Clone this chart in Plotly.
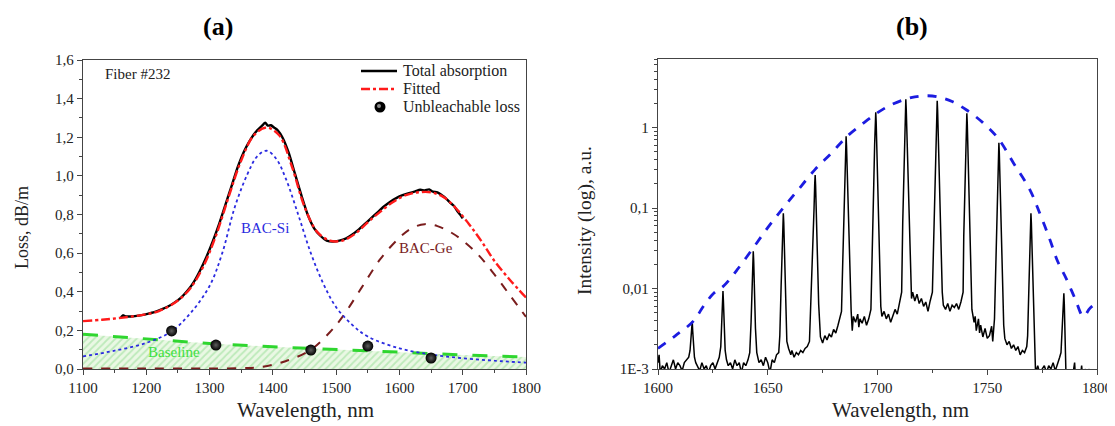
import plotly.graph_objects as go

# The page body has an 8px margin, so the figure is sized to the visible area
OFF = 8
W, H = 1115 - OFF, 426 - OFF
SERIF = "Liberation Serif"

# ---------------- Panel (a) data ----------------
total_wl = [1160, 1163, 1167, 1175, 1185, 1195, 1205, 1215, 1225, 1235, 1245, 1255, 1265, 1275, 1285,
            1295, 1305, 1315, 1325, 1335, 1345, 1355, 1365, 1375, 1383, 1388, 1392, 1397, 1402, 1408,
            1415, 1425, 1435, 1445, 1455, 1465, 1475, 1485, 1495, 1505, 1515, 1525, 1535, 1545, 1555,
            1565, 1575, 1585, 1595, 1605, 1615, 1625, 1633, 1640, 1647, 1653, 1660, 1667, 1673, 1680,
            1686, 1692, 1697, 1700]
total_loss = [0.268, 0.278, 0.272, 0.272, 0.275, 0.28, 0.288, 0.297, 0.31, 0.325, 0.345, 0.37, 0.405, 0.45, 0.51,
              0.58, 0.66, 0.75, 0.85, 0.95, 1.05, 1.13, 1.19, 1.235, 1.26, 1.275, 1.26, 1.262, 1.25, 1.235,
              1.2, 1.12, 1.01, 0.9, 0.8, 0.73, 0.69, 0.665, 0.66, 0.665, 0.675, 0.695, 0.72, 0.75, 0.78,
              0.81, 0.84, 0.865, 0.885, 0.9, 0.91, 0.92, 0.928, 0.925, 0.93, 0.918, 0.915, 0.9, 0.885, 0.862,
              0.845, 0.815, 0.795, 0.78]

fit_wl = [1100, 1130, 1160, 1190, 1220, 1250, 1270, 1290, 1310, 1330, 1350, 1370, 1390, 1410, 1430, 1450,
          1470, 1490, 1510, 1530, 1550, 1570, 1590, 1610, 1630, 1650, 1670, 1690, 1710, 1730, 1750, 1775, 1800]
fit_loss = [0.248, 0.255, 0.265, 0.278, 0.3, 0.355, 0.42, 0.53, 0.69, 0.89, 1.08, 1.21, 1.25, 1.21, 1.05, 0.84,
            0.71, 0.665, 0.665, 0.7, 0.76, 0.815, 0.865, 0.9, 0.915, 0.915, 0.89, 0.83, 0.75, 0.66, 0.56, 0.46, 0.37]

si_wl = [1100, 1150, 1200, 1240, 1270, 1300, 1320, 1340, 1360, 1375, 1390, 1405, 1420, 1440, 1460, 1480,
         1500, 1525, 1550, 1600, 1650, 1700, 1750, 1800]
si_loss = [0.065, 0.095, 0.135, 0.195, 0.29, 0.43, 0.6, 0.84, 1.01, 1.1, 1.13, 1.09, 0.99, 0.8, 0.6, 0.44,
           0.32, 0.23, 0.168, 0.107, 0.075, 0.056, 0.043, 0.033]

ge_wl = [1100, 1200, 1300, 1350, 1380, 1420, 1460, 1490, 1510, 1540, 1570, 1600, 1620, 1640, 1660, 1680,
         1700, 1725, 1750, 1775, 1800]
ge_loss = [0.003, 0.003, 0.003, 0.004, 0.01, 0.04, 0.1, 0.19, 0.27, 0.42, 0.57, 0.68, 0.73, 0.75, 0.74, 0.71,
           0.665, 0.59, 0.49, 0.38, 0.27]

base_wl = [1100, 1200, 1300, 1400, 1500, 1600, 1700, 1800]
base_loss = [0.18, 0.155, 0.132, 0.115, 0.1, 0.086, 0.073, 0.062]

unbl_wl = [1240, 1310, 1460, 1550, 1650]
unbl_loss = [0.197, 0.124, 0.098, 0.119, 0.057]

a_yticks = [0.0, 0.2, 0.4, 0.6, 0.8, 1.0, 1.2, 1.4, 1.6]
a_yticktext = ["0,0", "0,2", "0,4", "0,6", "0,8", "1,0", "1,2", "1,4", "1,6"]
a_xticks = [1100, 1200, 1300, 1400, 1500, 1600, 1700, 1800]

legend_labels = ["Total absorption", "Fitted", "Unbleachable loss"]

# ---------------- Panel (b) data ----------------
spec_wl = [
    1600, 1600.5, 1601, 1602, 1603, 1604, 1605, 1606, 1607, 1608, 1609, 1610, 1611, 1612, 1613,
    1614.0, 1614.6, 1615.1, 1615.4, 1615.6, 1615.8, 1616.1, 1616.6, 1617.2,
    1618, 1619, 1620, 1621, 1622, 1623, 1624, 1625, 1626, 1627,
    1627.9, 1628.6, 1629.1, 1629.4, 1629.6, 1629.8, 1630.1, 1630.6, 1631.2,
    1632, 1633, 1634, 1635, 1636, 1637, 1638, 1639, 1640, 1641,
    1641.8, 1642.4, 1642.9, 1643.2, 1643.4, 1643.6, 1643.9, 1644.4, 1645.0,
    1646, 1647, 1648, 1649, 1650, 1651, 1652, 1653, 1654, 1655,
    1655.5, 1656.1, 1656.6, 1656.9, 1657.1, 1657.3, 1657.6, 1658.1, 1658.7,
    1659.5, 1660.5, 1661, 1662, 1663, 1664, 1665, 1666, 1667, 1668, 1669,
    1669.8, 1670.5, 1671.1, 1671.4, 1671.6, 1671.8, 1672.1, 1672.6, 1673.2,
    1674, 1675, 1676, 1677, 1678, 1679, 1680, 1681, 1682, 1683, 1683.6,
    1684.2, 1684.8, 1685.2, 1685.5, 1685.7, 1685.9, 1686.2, 1686.7, 1687.3,
    1688, 1688.5, 1689, 1690, 1691, 1691.5, 1692, 1693, 1694, 1695, 1696, 1697,
    1697.6, 1698.3, 1698.7, 1699.0, 1699.2, 1699.4, 1699.7, 1700.2, 1700.8,
    1701.5, 1702, 1703, 1704, 1705, 1706, 1707, 1708, 1709, 1710, 1711,
    1711.5, 1712.0, 1712.4, 1712.7, 1712.9, 1713.1, 1713.4, 1713.9, 1714.5,
    1715, 1715.5, 1716, 1717, 1718, 1719, 1720, 1721, 1722, 1723, 1724, 1725,
    1725.8, 1726.3, 1726.7, 1727.0, 1727.2, 1727.4, 1727.7, 1728.2, 1728.8,
    1729.5, 1730, 1731, 1732, 1733, 1734, 1735, 1736, 1737, 1738, 1739,
    1739.3, 1739.8, 1740.2, 1740.5, 1740.7, 1740.9, 1741.2, 1741.7, 1742.3,
    1743, 1744, 1744.5, 1745, 1746, 1746.5, 1747, 1748, 1749, 1750, 1751, 1752, 1752.5, 1753.3,
    1753.8, 1754.4, 1754.8, 1755.1, 1755.3, 1755.5, 1755.8, 1756.3, 1756.9,
    1757.5, 1758, 1759, 1760, 1761, 1762, 1763, 1764, 1765, 1766, 1767, 1768,
    1768.4, 1769.0, 1769.4, 1769.7, 1769.9, 1770.1, 1770.4, 1770.9, 1771.5,
    1772, 1773, 1774, 1775, 1776, 1777, 1778, 1779, 1780, 1781, 1782, 1783,
    1783.6, 1784.2, 1784.6, 1784.9, 1785.1, 1785.3, 1785.5, 1786,
    1787, 1788, 1789, 1789.8, 1790.3, 1791, 1792, 1793, 1793.6, 1794.5, 1795.5, 1796.5, 1797.5, 1798.5,
    1799.5, 1800]
spec_int = [
    0.0012, 0.0015, 0.0009, 0.0011, 0.001, 0.0012, 0.0009, 0.0011, 0.0013, 0.001, 0.0012, 0.0011, 0.00095, 0.0012, 0.0013,
    0.0014, 0.0017, 0.0024, 0.0033, 0.0039, 0.003, 0.0019, 0.0014, 0.0012,
    0.0011, 0.00095, 0.0012, 0.001, 0.0011, 0.0009, 0.0011, 0.0012, 0.001, 0.0012,
    0.0014, 0.0019, 0.0037, 0.0074, 0.0093, 0.007, 0.0033, 0.0017, 0.0013,
    0.0011, 0.0012, 0.001, 0.0013, 0.0011, 0.0012, 0.0009, 0.0012, 0.0011, 0.0013,
    0.0016, 0.0038, 0.0116, 0.023, 0.029, 0.022, 0.010, 0.0032, 0.0016,
    0.0012, 0.0013, 0.0011, 0.0014, 0.0012, 0.0009, 0.0013, 0.0012, 0.0015, 0.0016,
    0.0026, 0.011, 0.034, 0.069, 0.086, 0.065, 0.03, 0.0095, 0.0022,
    0.0018, 0.0015, 0.0017, 0.0014, 0.0016, 0.0015, 0.0017, 0.0016, 0.0018, 0.0019, 0.0022,
    0.0077, 0.033, 0.10, 0.2, 0.257, 0.19, 0.09, 0.028, 0.0064,
    0.0025, 0.0021, 0.0026, 0.0023, 0.0027, 0.0025, 0.0031, 0.0028, 0.0035, 0.0045, 0.0052,
    0.023, 0.10, 0.31, 0.62, 0.78, 0.58, 0.27, 0.086, 0.02,
    0.0052, 0.003, 0.0045, 0.0038, 0.0048, 0.0033, 0.0042, 0.0037, 0.0045, 0.0035, 0.0042, 0.0055,
    0.047, 0.2, 0.62, 1.24, 1.55, 1.16, 0.54, 0.17, 0.039,
    0.006, 0.0045, 0.0052, 0.0042, 0.0048, 0.0038, 0.0045, 0.0055, 0.0048, 0.0065, 0.009,
    0.067, 0.29, 0.9, 1.8, 2.24, 1.68, 0.78, 0.25, 0.056,
    0.012, 0.0075, 0.009, 0.007, 0.0085, 0.0065, 0.0075, 0.006, 0.0068, 0.0052, 0.007, 0.009,
    0.065, 0.28, 0.86, 1.72, 2.15, 1.6, 0.75, 0.24, 0.054,
    0.009, 0.0062, 0.0055, 0.0065, 0.0052, 0.0062, 0.0058, 0.0065, 0.0055, 0.0068, 0.009,
    0.045, 0.195, 0.6, 1.2, 1.5, 1.12, 0.52, 0.165, 0.037,
    0.0055, 0.0038, 0.0045, 0.003, 0.0042, 0.0028, 0.0035, 0.0025, 0.0032, 0.0024, 0.0026, 0.0034, 0.0022, 0.0042,
    0.019, 0.084, 0.26, 0.52, 0.645, 0.48, 0.23, 0.071, 0.016,
    0.0035, 0.0024, 0.002, 0.0022, 0.0018, 0.002, 0.0017, 0.0019, 0.0015, 0.0017, 0.0016, 0.0019,
    0.0026, 0.011, 0.034, 0.069, 0.086, 0.065, 0.03, 0.0095, 0.0022,
    0.0009, 0.0011, 0.00085, 0.001, 0.0011, 0.0009, 0.0011, 0.001, 0.0012, 0.00095, 0.0012, 0.0014,
    0.0016, 0.0035, 0.007, 0.0087, 0.0065, 0.003, 0.0008, 0.0006,
    0.0007, 0.0006, 0.00085, 0.0012, 0.0007, 0.0008, 0.0006, 0.0011, 0.0007, 0.001, 0.0008, 0.001, 0.0006, 0.0008,
    0.0007, 0.0007]

env_wl = [1600, 1608, 1616, 1621, 1625.5, 1630, 1636, 1643.4, 1650, 1657, 1664, 1671.5, 1679, 1686, 1693,
          1699.6, 1706, 1712.6, 1717, 1721.6, 1727, 1734, 1740.6, 1748, 1755, 1762, 1769.5, 1774, 1778.6,
          1782, 1786.2, 1790, 1793.8, 1796.8, 1800]
env_int = [0.0018, 0.0026, 0.0039, 0.0062, 0.0088, 0.0108, 0.017, 0.032, 0.057, 0.10, 0.17, 0.30, 0.48, 0.77, 1.1,
           1.5, 1.9, 2.24, 2.4, 2.48, 2.42, 2.1, 1.65, 1.15, 0.73, 0.36, 0.167, 0.085, 0.040,
           0.022, 0.0129, 0.0075, 0.0045, 0.0057, 0.0066]

b_yticks = [0.001, 0.01, 0.1, 1]
b_yticktext = ["1E-3", "0,01", "0,1", "1"]
b_yminor = [0.002, 0.003, 0.004, 0.005, 0.006, 0.007, 0.008, 0.009,
            0.02, 0.03, 0.04, 0.05, 0.06, 0.07, 0.08, 0.09,
            0.2, 0.3, 0.4, 0.5, 0.6, 0.7, 0.8, 0.9,
            2, 3, 4, 5, 6, 7]
b_xticks = [1600, 1650, 1700, 1750, 1800]

# ---------------- Figure ----------------
def px_x(p):
    return (p - OFF) / W

def px_y(p):
    return 1 - (p - OFF) / H

C_TOTAL, C_FIT = "black", "#ff1a1a"
C_SI, C_GE, C_BASE = "#2b2be0", "#7a1d1d", "#2fd62f"

fig = go.Figure()

# Panel (a)
fig.add_trace(go.Scatter(x=base_wl, y=base_loss, mode="lines", fill="tozeroy",
                         line=dict(color=C_BASE, width=3, dash="longdash"),
                         fillpattern=dict(shape="/", fgcolor="#8fdc8f", bgcolor="#eaf8e4", size=5, solidity=0.35),
                         xaxis="x", yaxis="y"))
fig.add_trace(go.Scatter(x=ge_wl, y=ge_loss, mode="lines", line=dict(color=C_GE, width=2, dash="dash", shape="spline"),
                         xaxis="x", yaxis="y"))
fig.add_trace(go.Scatter(x=si_wl, y=si_loss, mode="lines", line=dict(color=C_SI, width=1.8, dash="dot", shape="spline"),
                         xaxis="x", yaxis="y"))
fig.add_trace(go.Scatter(x=total_wl, y=total_loss, mode="lines", name=legend_labels[0],
                         line=dict(color=C_TOTAL, width=2.4, shape="spline", smoothing=0.6),
                         xaxis="x", yaxis="y"))
fig.add_trace(go.Scatter(x=fit_wl, y=fit_loss, mode="lines", name=legend_labels[1],
                         line=dict(color=C_FIT, width=2.4, dash="dashdot", shape="spline"),
                         xaxis="x", yaxis="y"))
fig.add_trace(go.Scatter(x=unbl_wl, y=unbl_loss, mode="markers", name=legend_labels[2],
                         marker=dict(color="black", size=11, gradient=dict(type="radial", color="#5e5e5e"),
                                     line=dict(width=0)),
                         xaxis="x", yaxis="y"))

# Panel (b)
fig.add_trace(go.Scatter(x=spec_wl, y=spec_int, mode="lines", line=dict(color="black", width=1.5),
                         xaxis="x2", yaxis="y2"))
fig.add_trace(go.Scatter(x=env_wl, y=env_int, mode="lines",
                         line=dict(color="#1c1ce0", width=2.8, dash="dash", shape="spline"),
                         xaxis="x2", yaxis="y2"))

axis_common = dict(showline=True, linecolor="#444444", linewidth=1.3, mirror=True, showgrid=False,
                   zeroline=False, ticks="outside", ticklen=5, tickcolor="#444444", tickwidth=1.2,
                   automargin=False,
                   tickfont=dict(family=SERIF, size=15, color="#222222"))

fig.update_layout(
    width=W, height=H,
    margin=dict(l=0, r=0, t=0, b=0, pad=0, autoexpand=False),
    paper_bgcolor="white", plot_bgcolor="white",
    showlegend=False,
    xaxis=dict(domain=[px_x(83), px_x(526)], range=[1100, 1800], tickvals=a_xticks,
               minor=dict(dtick=50, ticks="outside", ticklen=3, tickcolor="#444444"),
               anchor="y", **axis_common),
    yaxis=dict(domain=[px_y(369), px_y(60)], range=[0, 1.6], tickvals=a_yticks, ticktext=a_yticktext,
               minor=dict(dtick=0.1, ticks="outside", ticklen=3, tickcolor="#444444"),
               anchor="x", **axis_common),
    xaxis2=dict(domain=[px_x(658), px_x(1097)], range=[1600, 1800], tickvals=b_xticks,
                minor=dict(dtick=25, ticks="outside", ticklen=3, tickcolor="#444444"),
                anchor="y2", **axis_common),
    yaxis2=dict(domain=[px_y(369), px_y(59)], type="log", range=[-3, 0.851], tickvals=b_yticks,
                ticktext=b_yticktext,
                minor=dict(tickvals=b_yminor, ticks="outside", ticklen=3, tickcolor="#444444"),
                anchor="x2", **axis_common),
)

# Legend of panel (a), drawn as key shapes + text
leg_rows = [71, 89, 107]
shapes = [
    dict(type="line", xref="paper", yref="paper", x0=px_x(361), x1=px_x(397), y0=px_y(leg_rows[0]),
         y1=px_y(leg_rows[0]), line=dict(color=C_TOTAL, width=2.4)),
    dict(type="line", xref="paper", yref="paper", x0=px_x(361), x1=px_x(397), y0=px_y(leg_rows[1]),
         y1=px_y(leg_rows[1]), line=dict(color=C_FIT, width=2.4, dash="dashdot")),
    dict(type="circle", xref="paper", yref="paper", x0=px_x(374.5), x1=px_x(385.5), y0=px_y(leg_rows[2] + 5.5),
         y1=px_y(leg_rows[2] - 5.5), fillcolor="black", line=dict(width=0)),
    dict(type="circle", xref="paper", yref="paper", x0=px_x(377), x1=px_x(381), y0=px_y(leg_rows[2] + 1),
         y1=px_y(leg_rows[2] - 3), fillcolor="#8a8a8a", line=dict(width=0)),
]
fig.update_layout(shapes=shapes)

annotations = [
    dict(text="<b>(a)</b>", x=px_x(218), y=px_y(27), font=dict(family=SERIF, size=26, color="black")),
    dict(text="<b>(b)</b>", x=px_x(912), y=px_y(27), font=dict(family=SERIF, size=26, color="black")),
    dict(text="Loss, dB/m", x=px_x(22), y=px_y(228), textangle=-90, font=dict(family=SERIF, size=18, color="#222222")),
    dict(text="Wavelength, nm", x=px_x(305), y=px_y(410), font=dict(family=SERIF, size=21, color="#222222")),
    dict(text="Intensity (log), a.u.", x=px_x(585), y=px_y(221), textangle=-90,
         font=dict(family=SERIF, size=19.5, color="#222222")),
    dict(text="Wavelength, nm", x=px_x(900), y=px_y(410), font=dict(family=SERIF, size=21, color="#222222")),
    dict(text="Fiber #232", x=px_x(103), y=px_y(74), xanchor="left", font=dict(family=SERIF, size=15, color="#222222")),
]
for lab, row in zip(legend_labels, leg_rows):
    annotations.append(dict(text=lab, x=px_x(401), y=px_y(row), xanchor="left",
                            font=dict(family=SERIF, size=16, color="#222222")))
for a in annotations:
    a.setdefault("xref", "paper")
    a.setdefault("yref", "paper")
    a.setdefault("showarrow", False)
    a.setdefault("xanchor", "center")
    a.setdefault("yanchor", "middle")

# data-anchored labels
annotations += [
    dict(text="BAC-Si", x=1387, y=0.73, xref="x", yref="y", showarrow=False,
         font=dict(family=SERIF, size=15, color=C_SI)),
    dict(text="BAC-Ge", x=1642, y=0.627, xref="x", yref="y", showarrow=False,
         font=dict(family=SERIF, size=15, color=C_GE)),
    dict(text="Baseline", x=1244, y=0.088, xref="x", yref="y", showarrow=False,
         font=dict(family=SERIF, size=15, color="#3fe03f")),
]
fig.update_layout(annotations=annotations)

fig.write_html("out.html")
